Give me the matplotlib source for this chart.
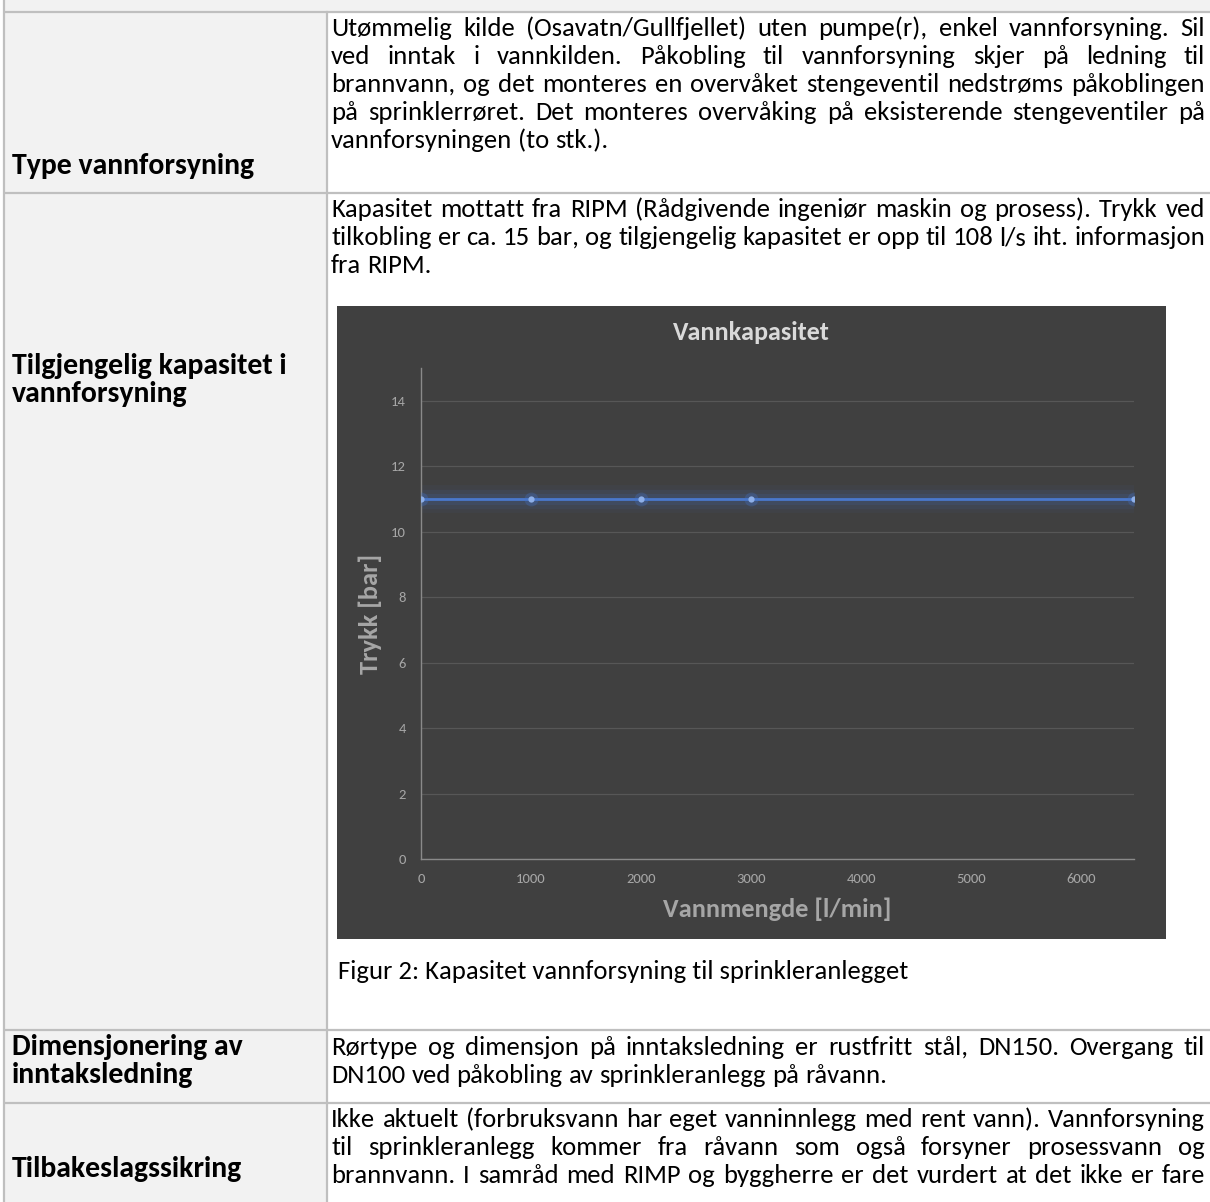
import matplotlib
matplotlib.use('Agg')
import matplotlib.pyplot as plt
from matplotlib.patches import Rectangle

plt.rcParams['font.family'] = ['Carlito', 'Lato', 'DejaVu Sans']

W, H = 1210, 1202

# --- chart data (pressure over flow, last point = 108 l/s = 6480 l/min) ---
flow = [0, 1000, 2000, 3000, 6480]
pressure = [11, 11, 11, 11, 11]
xticks = [0, 1000, 2000, 3000, 4000, 5000, 6000]
yticks = [0, 2, 4, 6, 8, 10, 12, 14]
chart_title = 'Vannkapasitet'
xlabel = 'Vannmengde [l/min]'
ylabel = 'Trykk [bar]'
caption = 'Figur 2: Kapasitet vannforsyning til sprinkleranlegget'

# --- table text, one entry per printed line ---
row1_label = ['Type vannforsyning']
row1_text = [
    'Utømmelig kilde (Osavatn/Gullfjellet) uten pumpe(r), enkel vannforsyning. Sil',
    'ved inntak i vannkilden. Påkobling til vannforsyning skjer på ledning til',
    'brannvann, og det monteres en overvåket stengeventil nedstrøms påkoblingen',
    'på sprinklerrøret. Det monteres overvåking på eksisterende stengeventiler på',
    'vannforsyningen (to stk.).',
]
row2_label = ['Tilgjengelig kapasitet i', 'vannforsyning']
row2_text = [
    'Kapasitet mottatt fra RIPM (Rådgivende ingeniør maskin og prosess). Trykk ved',
    'tilkobling er ca. 15 bar, og tilgjengelig kapasitet er opp til 108 l/s iht. informasjon',
    'fra RIPM.',
]
row3_label = ['Dimensjonering av', 'inntaksledning']
row3_text = [
    'Rørtype og dimensjon på inntaksledning er rustfritt stål, DN150. Overgang til',
    'DN100 ved påkobling av sprinkleranlegg på råvann.',
]
row4_label = ['Tilbakeslagssikring']
row4_text = [
    'Ikke aktuelt (forbruksvann har eget vanninnlegg med rent vann). Vannforsyning',
    'til sprinkleranlegg kommer fra råvann som også forsyner prosessvann og',
    'brannvann. I samråd med RIMP og byggherre er det vurdert at det ikke er fare',
]

fig = plt.figure(figsize=(W / 100, H / 100), dpi=100)
fig.patch.set_facecolor('white')
renderer = fig.canvas.get_renderer()

# page layer in pixel units, y downwards
bg = fig.add_axes([0, 0, 1, 1])
bg.set_xlim(0, W)
bg.set_ylim(H, 0)
bg.axis('off')

grid_col = '#bfbfbf'
shade = '#f2f2f2'
x_left, x_div = 4, 327
text_l, text_r = 331, 1205
bg.add_patch(Rectangle((x_left, 0), x_div - x_left, H, color=shade, lw=0))
bg.add_patch(Rectangle((x_left, 0), W - x_left, 12, color=shade, lw=0))
for yl in [12, 193, 1030, 1103]:
    bg.plot([x_left, W], [yl, yl], color=grid_col, lw=1.6, solid_capstyle='butt')
bg.plot([x_left, x_left], [0, H], color=grid_col, lw=1.6)
bg.plot([x_div, x_div], [12, H], color=grid_col, lw=1.6)


def width_of(s, **kw):
    t = bg.text(0, 0, s, **kw)
    w = t.get_window_extent(renderer).width
    t.remove()
    return w


def fit_size(s, target, **kw):
    return 10 * target / width_of(s, fontsize=10, **kw)


# body font sized so the tightest justified line just fits the cell
body_size = fit_size(row2_text[1], text_r - text_l)
label_size = fit_size(row2_label[0], 275, fontweight='bold')
body = dict(fontsize=body_size, color='#000000')
label = dict(fontsize=label_size, color='#000000', fontweight='bold')
space_w = width_of('x x', **body) - width_of('xx', **body)


def put_line(line, x0, x1, yc, justify, style):
    words = line.split(' ')
    texts = [bg.text(0, yc + 6, w, va='baseline', ha='left', **style) for w in words]
    widths = [t.get_window_extent(renderer).width for t in texts]
    gap = space_w
    if justify and len(words) > 1:
        gap = (x1 - x0 - sum(widths)) / (len(words) - 1)
    x = x0
    for t, w in zip(texts, widths):
        t.set_x(x)
        x += w + gap


def put_para(lines, y0, justify_last=False):
    for i, line in enumerate(lines):
        last = i == len(lines) - 1
        put_line(line, text_l, text_r, y0 + 28 * i, justify_last or not last, body)


def put_label(lines, y0):
    for i, line in enumerate(lines):
        bg.text(12, y0 + 28 * i + 6, line, va='baseline', ha='left', **label)


put_para(row1_text, 30)
put_label(row1_label, 168)
put_para(row2_text, 211)
put_label(row2_label, 368)
put_para(row3_text, 1049)
put_label(row3_label, 1049)
put_para(row4_text, 1121, justify_last=True)
put_label(row4_label, 1171)
bg.text(338, 973 + 6, caption, va='baseline', ha='left', **body)

# chart frame
bg.add_patch(Rectangle((337, 306), 829, 633, color='#404040', lw=0))

ax = fig.add_axes([421 / W, 1 - 859 / H, 713 / W, 491 / H])
ax.patch.set_alpha(0)
ax.set_xlim(0, 6480)
ax.set_ylim(0, 15)
ax.set_xticks(xticks)
ax.set_yticks(yticks)
tick_size = fit_size('1000', 30)
ax.tick_params(length=0, labelsize=tick_size, labelcolor='#a6a6a6')
ax.tick_params(axis='x', pad=10)
ax.tick_params(axis='y', pad=11)
for s in ['top', 'right']:
    ax.spines[s].set_visible(False)
for s in ['left', 'bottom']:
    ax.spines[s].set_color('#8a8a8a')
    ax.spines[s].set_linewidth(1.0)
ax.grid(axis='y', color='#575757', lw=0.9)
ax.set_axisbelow(True)

# soft glow around the series
for lw, a in [(20, 0.06), (14, 0.09), (8, 0.13)]:
    ax.plot(flow, pressure, color='#4472c4', lw=lw, alpha=a, solid_capstyle='round')
ax.plot(flow, pressure, color='#4a78cc', lw=2.0, zorder=3)
ax.plot(flow, pressure, ls='none', marker='o', ms=10, color='#4472c4', alpha=0.3, mew=0, zorder=3)
ax.plot(flow, pressure, ls='none', marker='o', ms=4.5, color='#8fb0e8', mew=0, zorder=4)

title_size = fit_size(chart_title, 157, fontweight='bold')
axis_size = fit_size(xlabel, 230, fontweight='bold')
fig.text(751 / W, 1 - 332 / H, chart_title, ha='center', va='center',
         fontsize=title_size, fontweight='bold', color='#d9d9d9')
fig.text(777 / W, 1 - 909 / H, xlabel, ha='center', va='center',
         fontsize=axis_size, fontweight='bold', color='#a6a6a6')
fig.text(370 / W, 1 - 614 / H, ylabel, ha='center', va='center', rotation=90,
         fontsize=axis_size, fontweight='bold', color='#a6a6a6')

fig.savefig('out.png', dpi=100, facecolor='white')
